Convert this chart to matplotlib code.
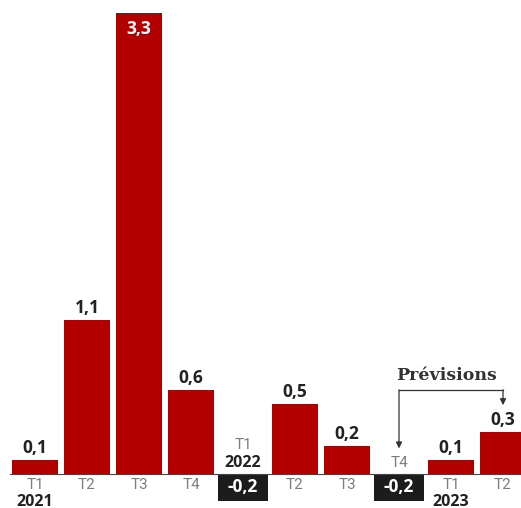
import numpy as np
import matplotlib.pyplot as plt

# trimestres / valeurs (%)
quarters = ['T1', 'T2', 'T3', 'T4', 'T1', 'T2', 'T3', 'T4', 'T1', 'T2']
years = ['2021', '', '', '', '2022', '', '', '', '2023', '']
values = [0.1, 1.1, 3.3, 0.6, -0.2, 0.5, 0.2, -0.2, 0.1, 0.3]

red = '#b20000'
dark = '#222222'
grey = '#7c7c7c'
px = 72 / 100  # points per pixel

fig = plt.figure(figsize=(5.21, 5.08), dpi=100)
ax = fig.add_axes([0, 0, 1, 1])
x = np.arange(len(values))

for i, v in enumerate(values):
    if v >= 0:
        ax.bar(x[i], v, width=0.885, color=red)
    else:
        ax.bar(x[i], v, width=0.96, color='#1c1c1c')

ax.axhline(0, xmin=0.02, color='#444444', lw=0.8, zorder=3)

qfont = dict(color=grey, fontsize=11, family='Roboto')
yfont = dict(color=dark, fontsize=11.5, fontweight='bold', family='Open Sans')
vfont = dict(fontsize=12.5, fontweight='bold', family='Open Sans')

for i, v in enumerate(values):
    lab = ('%.1f' % v).replace('.', ',')
    if v < 0:
        ax.text(x[i], v / 2, lab, ha='center', va='center', color='white', **vfont)
        # axis label goes above the baseline
        if years[i]:
            ax.annotate(quarters[i], (x[i], 0), xytext=(0, 28.5 * px),
                        textcoords='offset points', ha='center', va='center', **qfont)
            ax.annotate(years[i], (x[i], 0), xytext=(0, 11 * px),
                        textcoords='offset points', ha='center', va='center', **yfont)
        else:
            ax.annotate(quarters[i], (x[i], 0), xytext=(0, 10.5 * px),
                        textcoords='offset points', ha='center', va='center', **qfont)
    else:
        if v > 3:
            ax.annotate(lab, (x[i], v), xytext=(0, -16 * px),
                        textcoords='offset points', ha='center', va='center',
                        color='white', **vfont)
        else:
            ax.annotate(lab, (x[i], v), xytext=(0, 3 * px),
                        textcoords='offset points', ha='center', va='bottom',
                        color=dark, **vfont)
        ax.annotate(quarters[i], (x[i], 0), xytext=(0, -11.5 * px),
                    textcoords='offset points', ha='center', va='center', **qfont)
        if years[i]:
            ax.annotate(years[i], (x[i], 0), xytext=(0, -28 * px),
                        textcoords='offset points', ha='center', va='center', **yfont)

# Prévisions bracket
ax.plot([7, 9], [0.6, 0.6], color='#333333', lw=0.9)
ax.annotate('', xy=(7, 0.18), xytext=(7, 0.6),
            arrowprops=dict(arrowstyle='-|>', color='#333333', lw=0.9,
                            mutation_scale=9, shrinkA=0, shrinkB=0))
ax.annotate('', xy=(9, 0.49), xytext=(9, 0.6),
            arrowprops=dict(arrowstyle='-|>', color='#333333', lw=0.9,
                            mutation_scale=9, shrinkA=0, shrinkB=0))
ax.text(7.92, 0.706, 'Prévisions', ha='center', va='center', color='#333333',
        fontsize=12.5, fontweight='bold', family='DejaVu Serif')

ax.set_xlim(-0.673, 9.346)
ax.set_ylim(-0.247, 3.394)
ax.axis('off')

fig.savefig('out.png', dpi=100, facecolor='white')
